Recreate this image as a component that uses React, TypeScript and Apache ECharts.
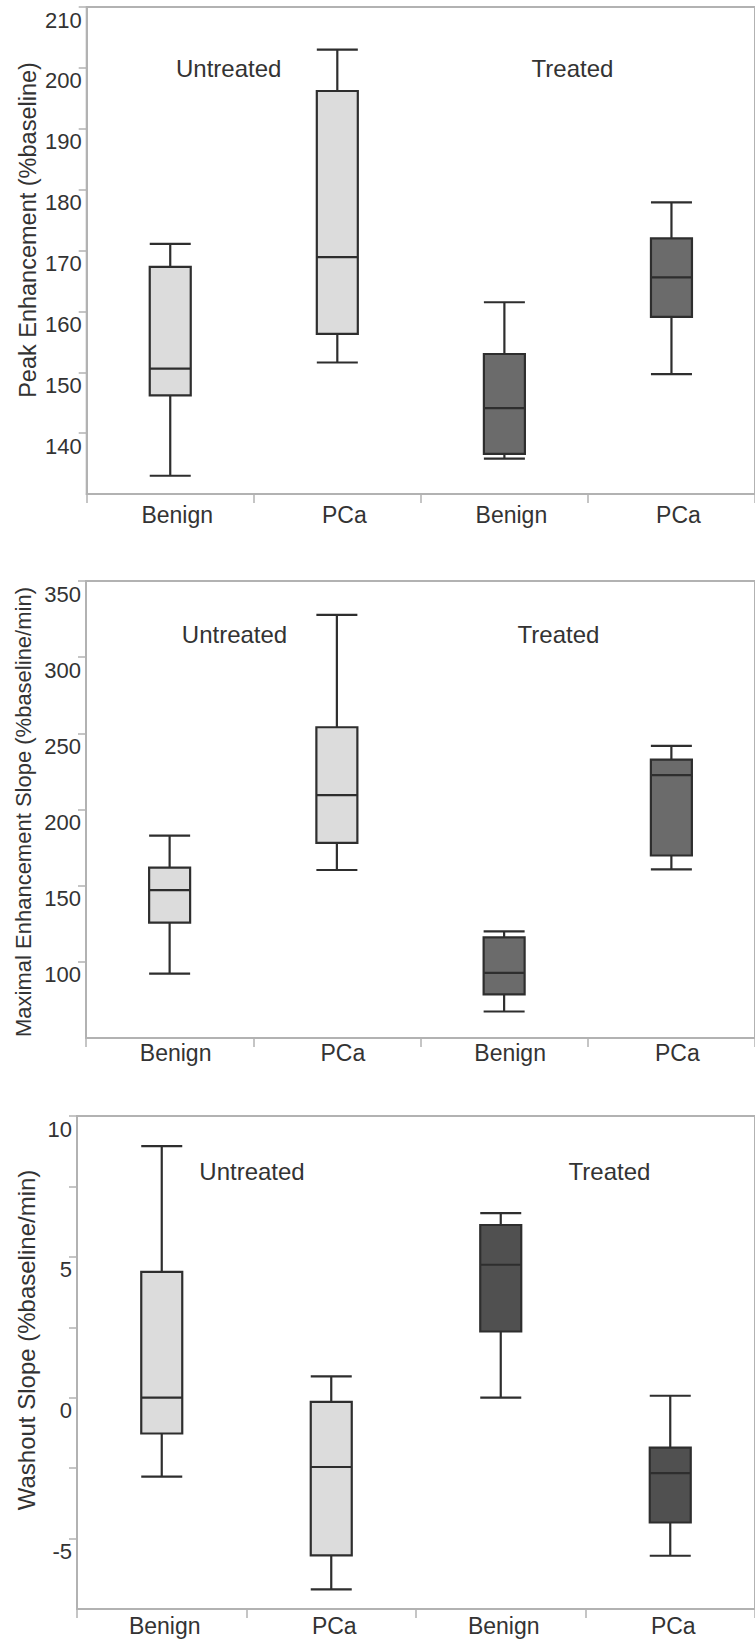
import React, { useEffect, useRef } from "react";
import * as echarts from "echarts";

// x tick labels and their treatment group
const tickLabels = ["Benign", "PCa", "Benign", "PCa"];
const tickGroups = ["Untreated", "Untreated", "Treated", "Treated"];

// Box values: [min, Q1, median, Q3, max]
// Panel 1: Peak Enhancement (%baseline)
const peakUntreatedBenign = [133.0, 146.2, 150.6, 167.3, 171.1];
const peakUntreatedPCa = [151.6, 156.3, 168.9, 196.2, 203.0];
const peakTreatedBenign = [135.8, 136.6, 144.1, 153.0, 161.5];
const peakTreatedPCa = [149.7, 159.1, 165.6, 172.0, 177.9];

// Panel 2: Maximal Enhancement Slope (%baseline/min)
const slopeUntreatedBenign = [92.3, 125.8, 147.1, 161.8, 182.9];
const slopeUntreatedPCa = [160.3, 178.1, 209.4, 254.0, 327.8];
const slopeTreatedBenign = [67.4, 78.7, 92.8, 116.1, 120.0];
const slopeTreatedPCa = [160.7, 169.8, 222.6, 232.7, 241.8];

// Panel 3: Washout Slope (%baseline/min)
const washUntreatedBenign = [-2.8, -1.27, 0.0, 4.47, 8.93];
const washUntreatedPCa = [-6.8, -5.6, -2.46, -0.15, 0.76];
const washTreatedBenign = [0.0, 2.35, 4.72, 6.13, 6.55];
const washTreatedPCa = [-5.61, -4.43, -2.68, -1.77, 0.07];

// Axis ranges
const peakAxis = { min: 130, max: 210, interval: 10 };
const slopeAxis = { min: 50, max: 350, interval: 50 };
const washAxis = { min: -7.5, max: 10, interval: 2.5 };

const axisTitles = [
  "Peak Enhancement (%baseline)",
  "Maximal Enhancement Slope (%baseline/min)",
  "Washout Slope (%baseline/min)",
];

const FONT = '"Liberation Sans", Arial, Helvetica, sans-serif';
const AXIS_COLOR = "#b2b2b2";
const TEXT_COLOR = "#333333";
const UNTREATED_FILL = "#dcdcdc";

export default function App() {
  const ref = useRef<HTMLDivElement>(null);

  useEffect(() => {
    if (!ref.current) return;
    const chart = echarts.init(ref.current, undefined, { renderer: "svg" });

    const panels = [
      {
        grid: { left: 86.7, right: -8, top: 7, height: 487 },
        axis: peakAxis,
        values: [peakUntreatedBenign, peakUntreatedPCa, peakTreatedBenign, peakTreatedPCa],
        treatedFill: "#6b6b6b",
        labelMargin: 9,
        labelShift: 7,
        onlyFives: false,
        title: { x: 27.5, y: 230, size: 23.5 },
        notes: [
          { x: 228.7, y: 68 },
          { x: 572.5, y: 68 },
        ],
      },
      {
        grid: { left: 86, right: -8, top: 581, height: 457 },
        axis: slopeAxis,
        values: [slopeUntreatedBenign, slopeUntreatedPCa, slopeTreatedBenign, slopeTreatedPCa],
        treatedFill: "#6b6b6b",
        labelMargin: 3,
        labelShift: 6,
        onlyFives: false,
        title: { x: 23.5, y: 812, size: 22 },
        notes: [
          { x: 234.5, y: 634.5 },
          { x: 558.5, y: 634.5 },
        ],
      },
      {
        grid: { left: 77, right: -8, top: 1116, height: 493 },
        axis: washAxis,
        values: [washUntreatedBenign, washUntreatedPCa, washTreatedBenign, washTreatedPCa],
        treatedFill: "#505050",
        labelMargin: 5,
        labelShift: 3,
        onlyFives: true,
        title: { x: 26.5, y: 1340, size: 24 },
        notes: [
          { x: 252, y: 1171.5 },
          { x: 609.5, y: 1171.5 },
        ],
      },
    ];

    const axisLineStyle = { color: AXIS_COLOR, width: 2 };

    const grids = panels.map((p) => ({
      ...p.grid,
      show: true,
      borderColor: AXIS_COLOR,
      borderWidth: 2,
      backgroundColor: "transparent",
      containLabel: false,
    }));

    const xAxes = panels.map((p, i) => ({
      type: "category",
      gridIndex: i,
      data: tickLabels.map((t, k) => `${tickGroups[k]} ${t}`),
      boundaryGap: true,
      axisLine: { show: true, onZero: false, lineStyle: axisLineStyle },
      axisTick: { show: true, length: 9, lineStyle: { color: AXIS_COLOR, width: 1.5 } },
      axisLabel: {
        fontSize: 23,
        fontFamily: FONT,
        color: TEXT_COLOR,
        margin: p.labelMargin,
        padding: [0, 0, 0, p.labelShift * 2],
        formatter: (_v: string, idx: number) => tickLabels[idx],
      },
      splitLine: { show: false },
    }));

    const yAxes = panels.map((p, i) => ({
      type: "value",
      gridIndex: i,
      min: p.axis.min,
      max: p.axis.max,
      interval: p.axis.interval,
      axisLine: { show: true, onZero: false, lineStyle: axisLineStyle },
      axisTick: { show: true, length: 8, lineStyle: { color: AXIS_COLOR, width: 1.5 } },
      axisLabel: {
        fontSize: 22,
        fontFamily: FONT,
        color: TEXT_COLOR,
        verticalAlign: "top",
        lineHeight: 26,
        margin: 5,
        showMinLabel: false,
        formatter: (v: number) => {
          if (p.onlyFives && Math.abs(v % 5) > 1e-9) return "";
          return String(v);
        },
      },
      splitLine: { show: false },
    }));

    const series = panels.map((p, i) => ({
      type: "boxplot",
      xAxisIndex: i,
      yAxisIndex: i,
      boxWidth: [41, 41],
      itemStyle: { borderColor: "#2e2e2e", borderWidth: 2.2 },
      data: p.values.map((v, k) => ({
        value: v,
        itemStyle: { color: tickGroups[k] === "Untreated" ? UNTREATED_FILL : p.treatedFill },
      })),
    }));

    const graphics: any[] = [];
    panels.forEach((p, i) => {
      graphics.push({
        type: "text",
        x: p.title.x,
        y: p.title.y,
        rotation: Math.PI / 2,
        style: {
          text: axisTitles[i],
          fontSize: p.title.size,
          fontFamily: FONT,
          fill: TEXT_COLOR,
          align: "center",
          verticalAlign: "middle",
        },
      });
      ["Untreated", "Treated"].forEach((g, k) => {
        graphics.push({
          type: "text",
          x: p.notes[k].x,
          y: p.notes[k].y,
          style: {
            text: g,
            fontSize: 24,
            fontFamily: FONT,
            fill: TEXT_COLOR,
            align: "center",
            verticalAlign: "middle",
          },
        });
      });
    });

    chart.setOption({
      animation: false,
      backgroundColor: "#ffffff",
      grid: grids,
      xAxis: xAxes,
      yAxis: yAxes,
      series,
      graphic: graphics,
    });

    return () => {
      chart.dispose();
    };
  }, []);

  return (
    <div
      ref={ref}
      style={{ position: "absolute", left: 0, top: 0, width: 755, height: 1642 }}
    />
  );
}
